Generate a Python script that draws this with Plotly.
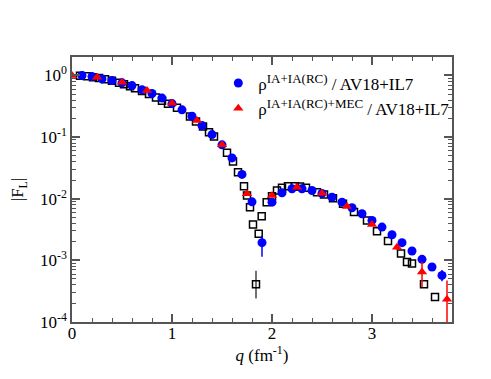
import numpy as np
import plotly.graph_objects as go

# black open squares
q_sq = [0.08, 0.15, 0.21, 0.27, 0.33, 0.40, 0.47, 0.52, 0.58, 0.63, 0.70, 0.77, 0.84, 0.90,
        0.96, 1.05, 1.18, 1.24, 1.31, 1.37, 1.42, 1.55, 1.61, 1.66, 1.72, 1.75, 1.78, 1.81,
        1.84, 1.867, 1.897, 1.947, 2.0, 2.05, 2.10, 2.16, 2.23, 2.28, 2.34, 2.45, 2.52, 2.61,
        2.71, 2.82, 2.95, 3.05, 3.16, 3.29, 3.35, 3.40, 3.52, 3.63]
f_sq = [0.99, 0.97, 0.94, 0.91, 0.87, 0.82, 0.76, 0.72, 0.67, 0.62, 0.56, 0.50, 0.44, 0.39,
        0.347, 0.299, 0.216, 0.18, 0.149, 0.12, 0.102, 0.0556, 0.0403, 0.027, 0.016, 0.0113,
        0.0073, 0.00383, 0.00041, 0.00271, 0.00522, 0.0088, 0.011, 0.0136, 0.0151, 0.016,
        0.016, 0.0158, 0.0151, 0.0128, 0.0117, 0.0102, 0.0083, 0.00607, 0.00445, 0.00298,
        0.00206, 0.00129, 0.00094, 0.00089, 0.00041, 0.000254]
e_sq_up = [0] * 28 + [0.00027] + [0] * 23
e_sq_dn = [0] * 28 + [0.00017] + [0] * 23

# rho IA+IA(RC)
q_ia = [0.1, 0.2, 0.3, 0.4, 0.5, 0.6, 0.7, 0.8, 0.9, 1.0, 1.1, 1.2, 1.3, 1.4, 1.5, 1.6, 1.7,
        1.8, 1.9, 2.0, 2.1, 2.2, 2.3, 2.4, 2.5, 2.6, 2.7, 2.8, 2.9, 3.0, 3.1, 3.2, 3.3, 3.4,
        3.5, 3.6, 3.7]
f_ia = [1.0, 0.96, 0.88, 0.83, 0.76, 0.685, 0.585, 0.51, 0.43, 0.35, 0.277, 0.218, 0.154,
        0.110, 0.075, 0.046, 0.0248, 0.0089, 0.00194, 0.0088, 0.0125, 0.0145, 0.0145, 0.0136,
        0.0122, 0.0106, 0.0088, 0.00714, 0.00571, 0.00445, 0.00347, 0.00261, 0.00194,
        0.00142, 0.00104, 0.00078, 0.00057]
e_ia_up = [0] * 18 + [0.0006] + [0] * 15 + [0.00012, 0.00013, 0.00013]
e_ia_dn = [0] * 18 + [0.0008] + [0] * 15 + [0.0001, 0.00011, 0.00011]

# rho IA+IA(RC)+MEC
q_mec = [0.0, 0.25, 0.5, 0.75, 1.0, 1.25, 1.5, 1.75, 2.0, 2.25, 2.5, 2.75, 3.0, 3.25, 3.5, 3.75]
f_mec = [1.0, 0.935, 0.776, 0.569, 0.354, 0.186, 0.075, 0.012, 0.0113, 0.0154, 0.0123,
         0.0075, 0.00383, 0.00164, 0.000646, 0.000233]
e_mec_up = [0] * 13 + [0.0002, 0.0003, 0.00024]
e_mec_dn = [0] * 13 + [0.00015, 0.00028, 0.00022]

font = "Liberation Serif, Times New Roman, serif"
sup = "<sup><span style='font-size:13px'>%s</span></sup>"

fig = go.Figure()

fig.add_trace(go.Scatter(
    x=q_sq, y=f_sq, mode="markers", showlegend=False,
    marker=dict(symbol="square-open", size=7, color="black", line=dict(width=1.5)),
    error_y=dict(type="data", array=e_sq_up, arrayminus=e_sq_dn, color="#444", width=0, thickness=1.5)))

fig.add_trace(go.Scatter(
    x=q_ia, y=f_ia, mode="markers",
    name="\u03c1" + sup % "IA+IA(RC)" + " / AV18+IL7",
    marker=dict(symbol="circle", size=9, color="#0000ff"),
    error_y=dict(type="data", array=e_ia_up, arrayminus=e_ia_dn, color="#0000ff", width=0, thickness=1.5)))

fig.add_trace(go.Scatter(
    x=q_mec, y=f_mec, mode="markers",
    name="\u03c1" + sup % "IA+IA(RC)+MEC" + " / AV18+IL7",
    marker=dict(symbol="triangle-up", size=9, color="#ff0000"),
    error_y=dict(type="data", array=e_mec_up, arrayminus=e_mec_dn, color="#ff0000", width=0, thickness=1.5)))

ytickvals = [1e-4, 1e-3, 1e-2, 1e-1, 1]
yticktext = ["10<sup>-4</sup>", "10<sup>-3</sup>", "10<sup>-2</sup>", "10<sup>-1</sup>", "10<sup>0</sup>"]
yminor = [k * 10.0 ** n for n in range(-4, 1) for k in range(2, 10)]

fig.update_layout(
    width=483, height=371,
    margin=dict(l=64, r=39, t=49, b=57),
    paper_bgcolor="white", plot_bgcolor="white",
    font=dict(family=font, size=16, color="black"),
    legend=dict(x=0.385, y=0.968, xanchor="left", yanchor="top", bgcolor="rgba(0,0,0,0)",
                font=dict(family=font, size=17), itemwidth=30, tracegroupgap=0),
)

fig.update_xaxes(
    range=[0, 3.8], showgrid=False, zeroline=False, automargin=False,
    showline=True, linecolor="#555", linewidth=1.5, mirror="ticks",
    ticks="inside", ticklen=8, tickcolor="#555", tickwidth=1.5,
    tickvals=[0, 1, 2, 3], ticktext=["0", "1", "2", "3"],
    tickfont=dict(family=font, size=17), ticklabelstandoff=-5,
    minor=dict(tickvals=[0.2, 0.4, 0.6, 0.8, 1.2, 1.4, 1.6, 1.8, 2.2, 2.4, 2.6, 2.8, 3.2, 3.4, 3.6],
               ticks="inside", ticklen=4, tickcolor="#555", tickwidth=1),
    title=dict(text="<i>q</i> (fm<sup>-1</sup>)", font=dict(family=font, size=17), standoff=2),
)

fig.update_yaxes(
    type="log", range=[-4, 0.3], showgrid=False, zeroline=False, automargin=False,
    showline=True, linecolor="#555", linewidth=1.5, mirror="ticks",
    ticks="inside", ticklen=8, tickcolor="#555", tickwidth=1.5,
    tickvals=ytickvals, ticktext=yticktext,
    tickfont=dict(family=font, size=17),
    minor=dict(tickvals=yminor, ticks="inside", ticklen=4, tickcolor="#555", tickwidth=1),
    title=dict(text="|F<sub>L</sub>|", font=dict(family=font, size=17), standoff=28),
)

fig.write_html("out.html")
